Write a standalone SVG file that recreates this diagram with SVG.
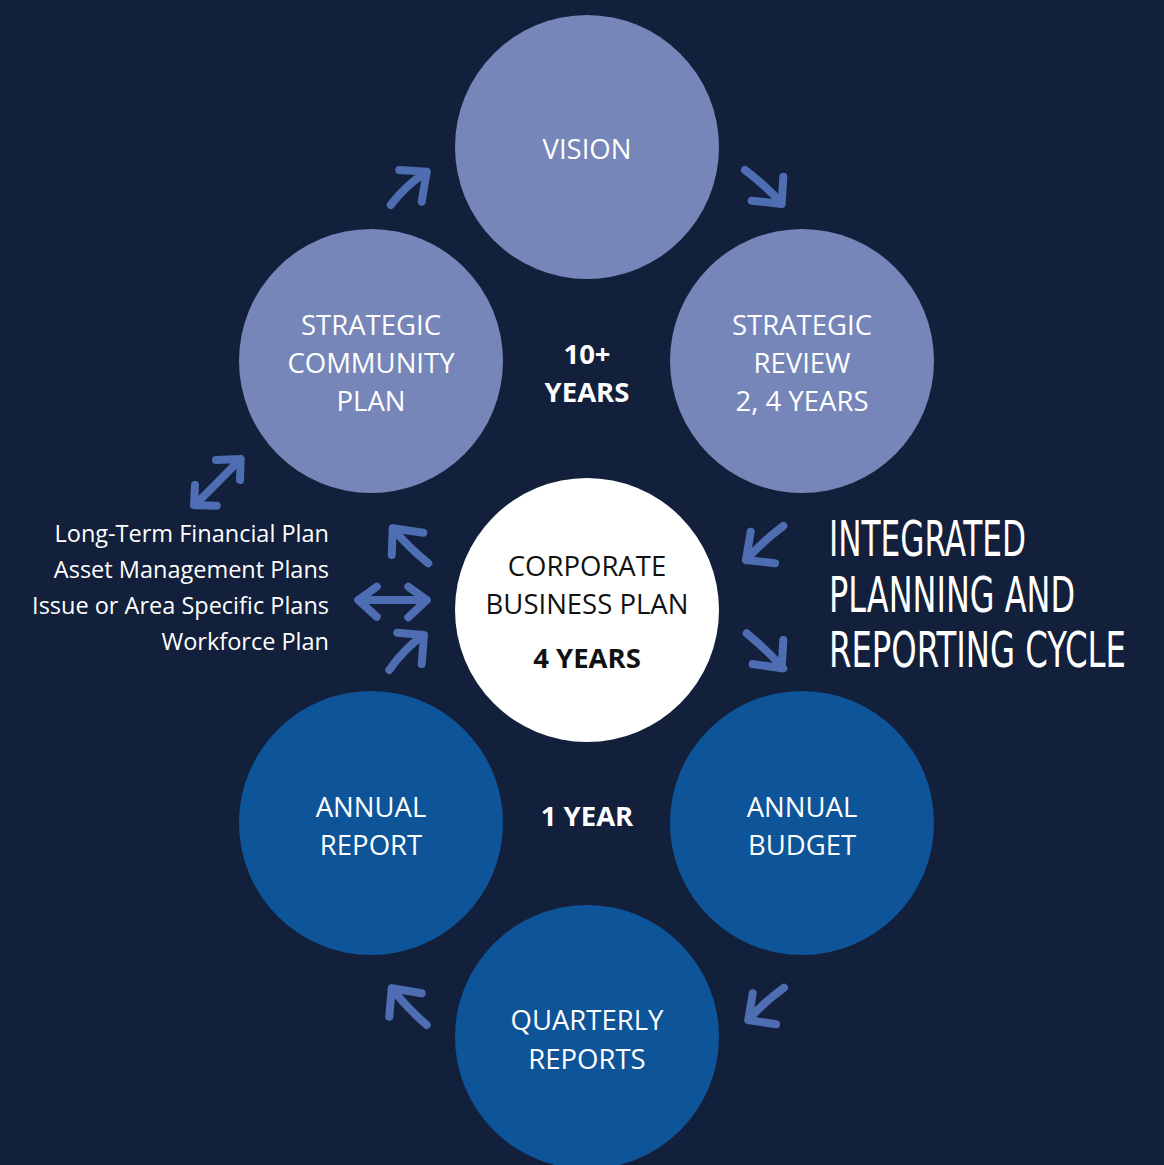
<svg xmlns="http://www.w3.org/2000/svg" width="1164" height="1165" viewBox="0 0 1164 1165">
<style>
.bg{fill:#12203b}
.light{fill:#7686b9}
.dark{fill:#0e5499}
.white{fill:#ffffff}
.t{font-family:"Open Sans","Liberation Sans",sans-serif;font-size:27.5px;fill:#ffffff;text-anchor:middle}
.tb{font-family:"Open Sans","Liberation Sans",sans-serif;font-size:27.5px;font-weight:bold;fill:#ffffff;text-anchor:middle}
.tk{font-family:"Open Sans","Liberation Sans",sans-serif;font-size:27.5px;fill:#111111;text-anchor:middle}
.tkb{font-family:"Open Sans","Liberation Sans",sans-serif;font-size:27.5px;font-weight:bold;fill:#111111;text-anchor:middle}
.side{font-family:"Open Sans","Liberation Sans",sans-serif;font-size:23.5px;fill:#ffffff;text-anchor:end}
.title{font-family:"DejaVu Sans Condensed","Liberation Sans",sans-serif;font-size:50px;fill:#ffffff}
.arr{fill:none;stroke:#4e6db2;stroke-width:8;stroke-linecap:round;stroke-linejoin:round}
</style>
<rect class="bg" x="0" y="0" width="1164" height="1165"/>
<g id="node-vision"><circle class="light" cx="587" cy="147" r="132"/><text class="t" x="587" y="159">VISION</text></g>
<g id="node-scp"><circle class="light" cx="371" cy="361" r="132"/><text class="t" x="371" y="335">STRATEGIC</text><text class="t" x="371" y="373">COMMUNITY</text><text class="t" x="371" y="411">PLAN</text></g>
<g id="node-review"><circle class="light" cx="802" cy="361" r="132"/><text class="t" x="802" y="335">STRATEGIC</text><text class="t" x="802" y="373">REVIEW</text><text class="t" x="802" y="411">2, 4 YEARS</text></g>
<g id="node-corporate"><circle class="white" cx="587" cy="610" r="132"/><text class="tk" x="587" y="576">CORPORATE</text><text class="tk" x="587" y="614">BUSINESS PLAN</text><text class="tkb" x="587" y="668">4 YEARS</text></g>
<g id="node-report"><circle class="dark" cx="371" cy="823" r="132"/><text class="t" x="371" y="817">ANNUAL</text><text class="t" x="371" y="855">REPORT</text></g>
<g id="node-budget"><circle class="dark" cx="802" cy="823" r="132"/><text class="t" x="802" y="817">ANNUAL</text><text class="t" x="802" y="855">BUDGET</text></g>
<g id="node-quarterly"><circle class="dark" cx="587" cy="1037" r="132"/><text class="t" x="587" y="1030">QUARTERLY</text><text class="t" x="587" y="1069">REPORTS</text></g>
<g id="labels">
<text class="tb" x="587" y="364">10+</text>
<text class="tb" x="587" y="402">YEARS</text>
<text class="tb" x="587" y="826">1 YEAR</text>
</g>
<g id="node-plans">
<text class="side" x="329" y="542">Long-Term Financial Plan</text>
<text class="side" x="329" y="578">Asset Management Plans</text>
<text class="side" x="329" y="614">Issue or Area Specific Plans</text>
<text class="side" x="329" y="650">Workforce Plan</text>
</g>
<g id="title">
<text class="title" x="829" y="556" textLength="197" lengthAdjust="spacingAndGlyphs">INTEGRATED</text>
<text class="title" x="829" y="612" textLength="246" lengthAdjust="spacingAndGlyphs">PLANNING AND</text>
<text class="title" x="829" y="667" textLength="297" lengthAdjust="spacingAndGlyphs">REPORTING CYCLE</text>
</g>
<g id="connectors">
<path class="arr" d="M390.7,205 Q405,186 426.7,171.7 M399.3,170 L426.7,171.7 L421.7,201.7"/>
<path class="arr" d="M745,170 Q765,185 781.7,203.3 M751.7,200.7 L781.7,204 L783.3,176.7"/>
<path class="arr" d="M240.7,459 L195,505 M216,460 L240.7,459 L240,480 M195,485 L194,505 L216.7,505.7"/>
<path class="arr" d="M428.3,563.3 Q408,547 392.7,528.3 M391.7,555 L392.7,528.3 L423.3,532.7"/>
<path class="arr" d="M358.3,600 L426.7,600 M376.7,586.7 L358.3,600 L376.7,616.7 M408.3,586.7 L426.7,600 L408.3,617.3"/>
<path class="arr" d="M389.3,670 Q403,650 423.3,635 M397.3,632.7 L424,635 L421.7,664"/>
<path class="arr" d="M783.3,526 Q763,541 746,560 M750.7,531.7 L746,560 L775,563.3"/>
<path class="arr" d="M746.7,633.3 Q766,649 783.3,668.3 M752.7,664 L781.7,668.3 L783.3,640"/>
<path class="arr" d="M426.7,1025 Q407,1008 391.7,988.3 M389.3,1016.7 L391.7,988.3 L421.7,993.3"/>
<path class="arr" d="M784,987.7 Q764,1002 748.3,1020 M752.7,993.3 L748.3,1020 L776,1024.3"/>
</g>
</svg>
